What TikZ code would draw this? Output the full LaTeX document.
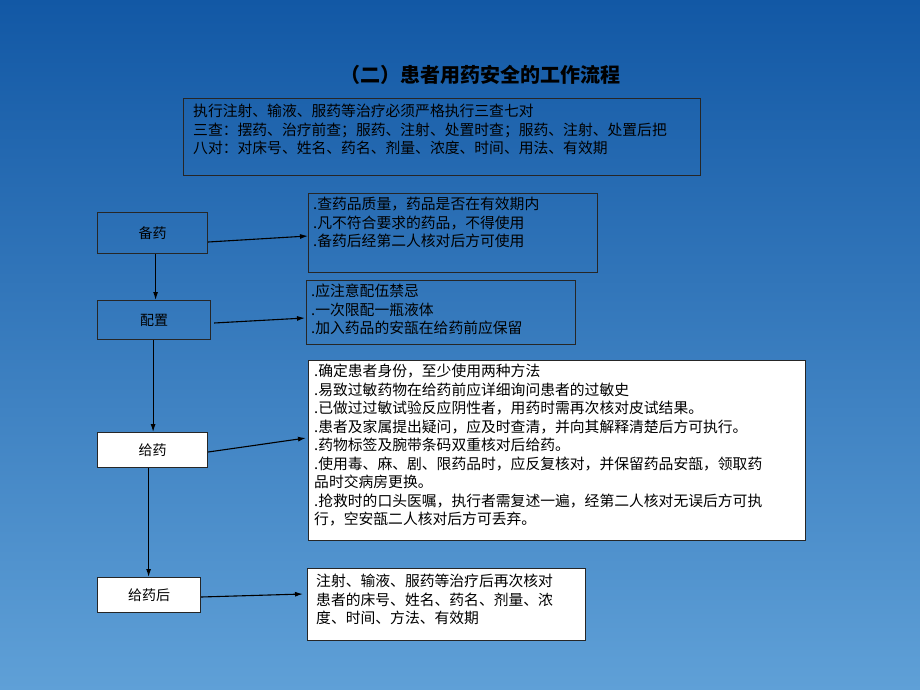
\documentclass[tikz,border=0pt]{standalone}
\usepackage{fontspec}
\setmainfont{Noto Sans CJK SC}
\usetikzlibrary{positioning,arrows.meta}
\definecolor{skytop}{RGB}{18,88,165}
\definecolor{skybot}{RGB}{95,160,215}
\tikzset{
  frame/.style={draw=black!85,line width=1.2pt,anchor=north west,inner sep=0pt},
  stepbox/.style={frame,fill=white},
  label/.style={font=\fontsize{14}{16}\selectfont},
  txt/.style={anchor=north west,align=left,inner sep=0pt,font=\fontsize{14.8}{18.5}\selectfont},
  link/.style={-{Latex[length=8pt,width=5pt]},line width=1.1pt,black}
}
\begin{document}
\begin{tikzpicture}[x=1pt,y=-1pt]
	\useasboundingbox (0,0) rectangle (920,690);
	\shade[top color=skytop,bottom color=skybot] (0,0) rectangle (920,690);
	\node[font=\fontsize{20}{24}\selectfont\bfseries] (title) at (480,75) {（二）患者用药安全的工作流程};
	% top rule box
	\node[frame,minimum width=517,minimum height=77] (rule) at (183,98) {};
	\node[txt] at (193,104) {执行注射、输液、服药等治疗必须严格执行三查七对\\三查：摆药、治疗前查；服药、注射、处置时查；服药、注射、处置后把\\八对：对床号、姓名、药名、剂量、浓度、时间、用法、有效期};
	% steps
	\node[frame,minimum width=110,minimum height=41] (prep) at (97,212) {};
	\node[label] at (prep.center) {备药};
	\node[frame,minimum width=113,minimum height=39] (mix) at (97,300) {};
	\node[label] at (mix.center) {配置};
	\node[stepbox,minimum width=110,minimum height=35] (give) at (97,432) {};
	\node[label] at (give.center) {给药};
	\node[stepbox,minimum width=103,minimum height=35] (after) at (97,577) {};
	\node[label] at (after.center) {给药后};
	% notes
	\node[frame,minimum width=289,minimum height=79] (nprep) at (308,193) {};
	\node[txt] at (313,197) {.查药品质量，药品是否在有效期内\\.凡不符合要求的药品，不得使用\\.备药后经第二人核对后方可使用};
	\node[frame,minimum width=269,minimum height=64] (nmix) at (306,280) {};
	\node[txt] at (311,284) {.应注意配伍禁忌\\.一次限配一瓶液体\\.加入药品的安瓿在给药前应保留};
	\node[stepbox,minimum width=497,minimum height=180] (ngive) at (308,360) {};
	\node[txt,text width=490] at (314,364) {.确定患者身份，至少使用两种方法\\.易致过敏药物在给药前应详细询问患者的过敏史\\.已做过过敏试验反应阴性者，用药时需再次核对皮试结果。\\.患者及家属提出疑问，应及时查清，并向其解释清楚后方可执行。\\.药物标签及腕带条码双重核对后给药。\\.使用毒、麻、剧、限药品时，应反复核对，并保留药品安瓿，领取药\\品时交病房更换。\\.抢救时的口头医嘱，执行者需复述一遍，经第二人核对无误后方可执\\行，空安瓿二人核对后方可丢弃。};
	\node[stepbox,minimum width=278,minimum height=72] (nafter) at (307,568) {};
	\node[txt] at (316,574) {注射、输液、服药等治疗后再次核对\\患者的床号、姓名、药名、剂量、浓\\度、时间、方法、有效期};
	% connectors
	\draw[link] (prep.east |- 0,242) -- (nprep.west |- 0,236);
	\draw[link] ([xshift=3pt]mix.east |- 0,323) -- ([xshift=-1pt]nmix.west |- 0,318);
	\draw[link] (give.east |- 0,452) -- ([xshift=-2pt]ngive.west |- 0,438);
	\draw[link] (after.east |- 0,597) -- ([xshift=-4pt]nafter.west |- 0,594);
	\draw[link] (prep.south) ++(3,0) coordinate (p1) -- (p1 |- mix.north);
	\draw[link] (mix.south) ++(-1,0) coordinate (p2) -- (p2 |- give.north);
	\draw[link] (give.south) ++(-4,0) coordinate (p3) -- (p3 |- after.north);
\end{tikzpicture}
\end{document}
